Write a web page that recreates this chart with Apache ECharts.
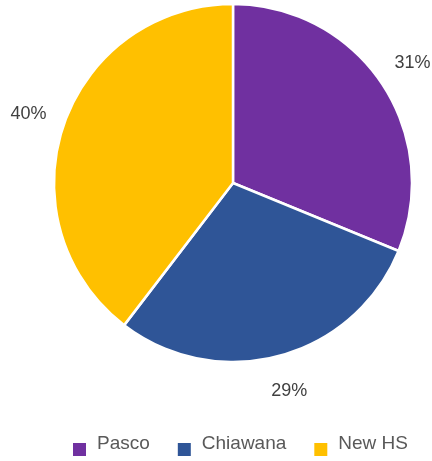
<!DOCTYPE html>
<html>
<head>
<meta charset="utf-8">
<script src="https://cdn.jsdelivr.net/npm/echarts@6/dist/echarts.min.js"></script>
<style>
  html, body { margin: 0; padding: 0; background: #fff; }
  #root { width: 432px; height: 461px; }
</style>
</head>
<body>
<div id="root"></div>
<script>
var schools = ['Pasco', 'Chiawana', 'New HS'];
var shares = [31.2, 29.2, 39.6];   // labels show them rounded
var colors = ['#7030A0', '#2F5597', '#FFC000'];

var cx = 233, cy = 183, r = 179;
var total = shares.reduce(function (a, b) { return a + b; }, 0);

var myCharts = echarts.init(document.getElementById('root'));
var option = {
    color: colors,
    legend: {
        top: 431,
        left: 73,
        padding: 0,
        // square marker sitting a bit below the text middle, like the original
        icon: 'path://M0,0 M0,12 L13,12 L13,25 L0,25 Z',
        itemWidth: 13,
        itemHeight: 25,
        itemGap: 28,
        itemStyle: { borderWidth: 0 },
        textStyle: {
            fontFamily: 'Liberation Sans, Arial, sans-serif',
            fontSize: 19,
            color: '#595959',
            padding: [0, 0, 0, 6]
        },
        data: schools
    },
    series: [
        {
            type: 'pie',
            center: [cx, cy],
            radius: r,
            startAngle: 90,
            clockwise: true,
            animation: false,
            percentPrecision: 0,
            itemStyle: {
                borderColor: '#fff',
                borderWidth: 2.5
            },
            label: {
                show: true,
                position: 'outside',
                formatter: '{d}%',
                fontFamily: 'Liberation Sans, Arial, sans-serif',
                fontSize: 18,
                color: '#404040',
                overflow: 'none'
            },
            labelLine: { show: false },
            // put each label centred a fixed distance out along its slice's middle angle
            labelLayout: function (params) {
                var before = 0;
                for (var i = 0; i < params.dataIndex; i++) before += shares[i];
                var mid = (before + shares[params.dataIndex] / 2) / total * Math.PI * 2;
                var d = r + 37;
                return {
                    x: cx + d * Math.sin(mid),
                    y: cy - d * Math.cos(mid),
                    align: 'center',
                    verticalAlign: 'middle'
                };
            },
            data: schools.map(function (s, i) {
                return { name: s, value: shares[i] };
            })
        }
    ]
};
myCharts.setOption(option);
</script>
</body>
</html>
